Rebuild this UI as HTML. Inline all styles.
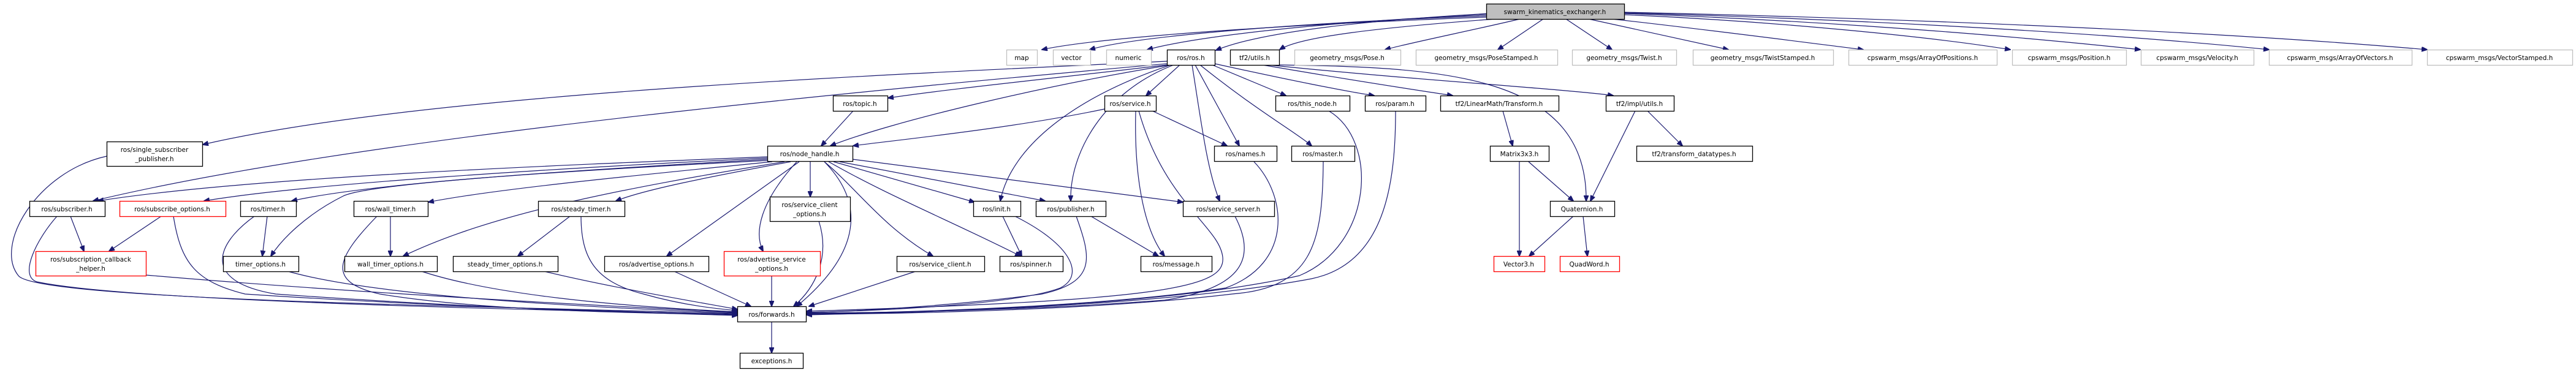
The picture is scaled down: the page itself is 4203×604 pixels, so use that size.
<!DOCTYPE html>
<html><head><meta charset="utf-8"><style>
html,body{margin:0;padding:0;background:#fff;}
svg{display:block;}
text{font-family:"DejaVu Sans","Liberation Sans",sans-serif;font-size:10.5px;fill:#000;text-anchor:middle;}
.e{fill:none;stroke:#191970;stroke-width:1.2;marker-end:url(#a);}
.b{fill:#fff;stroke:#000;stroke-width:1.3;}
.g{fill:#fff;stroke:#bfbfbf;stroke-width:1.3;}
.r{fill:#fff;stroke:#ff0000;stroke-width:1.3;}
</style></head><body>
<svg width="4203" height="604" viewBox="0 0 4203 604" xmlns="http://www.w3.org/2000/svg">
<defs><marker id="a" markerWidth="10" markerHeight="8" refX="9" refY="4" orient="auto" markerUnits="userSpaceOnUse"><path d="M0,0 L10,4 L0,8 z" fill="#191970" stroke="#191970"/></marker></defs>
<path class="e" d="M2425,28 C2100,40 1800,60 1700,81"/>
<path class="e" d="M2425,26 C2100,38 1850,60 1778,81"/>
<path class="e" d="M2425,24 C2150,36 1950,60 1872,81"/>
<path class="e" d="M2430,22 C2200,35 2050,55 1984,82"/>
<path class="e" d="M2440,31 C2250,45 2120,60 2088,81"/>
<path class="e" d="M2480,31 C2400,50 2300,70 2260,81"/>
<path class="e" d="M2518,31 L2444,81"/>
<path class="e" d="M2555,31 L2630,81"/>
<path class="e" d="M2592,31 L2820,81"/>
<path class="e" d="M2630,31 C2800,50 2950,70 3040,81"/>
<path class="e" d="M2650,24 C2900,35 3150,60 3280,81"/>
<path class="e" d="M2650,22 C3000,35 3300,60 3492,81"/>
<path class="e" d="M2650,21 C3050,32 3450,55 3702,81"/>
<path class="e" d="M2650,20 C3100,30 3600,50 3960,81"/>
<path class="e" d="M1904,100 C1500,120 700,150 331,236"/>
<path class="e" d="M1904,104 C1500,140 600,220 152,328"/>
<path class="e" d="M1904,106 C1700,130 1550,145 1449,160"/>
<path class="e" d="M1910,106 C1700,140 1450,200 1355,238"/>
<path class="e" d="M1925,106 L1870,156"/>
<path class="e" d="M1910,106 C1750,160 1650,240 1632,328"/>
<path class="e" d="M1915,106 C1800,150 1745,250 1747,328"/>
<path class="e" d="M1950,106 L2022,238"/>
<path class="e" d="M1945,106 C1960,200 1970,280 1990,328"/>
<path class="e" d="M1958,106 C2050,180 2120,220 2140,238"/>
<path class="e" d="M1978,106 L2098,156"/>
<path class="e" d="M1982,104 C2100,130 2200,150 2242,156"/>
<path class="e" d="M2060,106 C2200,130 2330,150 2370,156"/>
<path class="e" d="M2070,106 C2300,130 2550,145 2632,156"/>
<path class="e" d="M2087,106 C2350,110 2590,120 2588,328"/>
<path class="e" d="M1802,178 C1650,210 1450,230 1392,238"/>
<path class="e" d="M1880,181 L2002,238"/>
<path class="e" d="M1853,181 C1850,300 1870,380 1900,418"/>
<path class="e" d="M1858,181 C1900,330 1990,370 1995,420 C2000,470 1900,490 1316,508"/>
<path class="e" d="M1392,181 L1340,238"/>
<path class="e" d="M1252,256 C900,270 400,290 160,328"/>
<path class="e" d="M1252,258 C900,275 500,300 333,328"/>
<path class="e" d="M1252,260 C900,280 600,300 476,328"/>
<path class="e" d="M1252,262 C900,280 600,300 560,320 C500,350 460,390 442,418"/>
<path class="e" d="M1260,264 C1000,290 800,310 699,330"/>
<path class="e" d="M1280,264 C1000,310 800,350 658,418"/>
<path class="e" d="M1290,264 C1150,290 1050,310 1005,328"/>
<path class="e" d="M1304,264 L1088,418"/>
<path class="e" d="M1300,264 C1240,330 1230,380 1245,410"/>
<path class="e" d="M1322,264 L1322,321"/>
<path class="e" d="M1345,264 C1400,320 1420,400 1300,500"/>
<path class="e" d="M1345,264 C1400,310 1440,370 1522,418"/>
<path class="e" d="M1352,264 C1450,320 1550,360 1665,418"/>
<path class="e" d="M1360,264 L1590,330"/>
<path class="e" d="M1370,264 L1705,328"/>
<path class="e" d="M1391,260 L1930,330"/>
<path class="e" d="M174,255 C60,280 -10,400 30,450 C60,490 800,500 1203,512"/>
<path class="e" d="M93,353 C60,390 30,450 60,460 C200,490 800,505 1203,513"/>
<path class="e" d="M238,449 C600,480 1000,500 1203,510"/>
<path class="e" d="M283,353 C295,430 320,460 400,480 C700,500 1000,508 1203,514"/>
<path class="e" d="M415,353 C350,400 330,460 450,480 C800,505 1100,512 1203,515"/>
<path class="e" d="M470,443 C600,480 900,500 1203,511"/>
<path class="e" d="M615,353 C550,420 530,460 620,480 C800,510 1100,512 1203,513"/>
<path class="e" d="M688,443 C800,480 1000,500 1203,509"/>
<path class="e" d="M948,353 C948,420 970,460 1050,480 C1120,500 1180,505 1203,507"/>
<path class="e" d="M888,443 C1000,470 1150,495 1203,505"/>
<path class="e" d="M1100,443 L1225,500"/>
<path class="e" d="M1259,451 L1259,500"/>
<path class="e" d="M1336,361 C1355,420 1330,470 1295,500"/>
<path class="e" d="M1494,443 L1320,500"/>
<path class="e" d="M1656,353 C1750,400 1770,450 1730,470 C1650,500 1400,508 1316,510"/>
<path class="e" d="M1756,353 C1780,420 1790,460 1700,480 C1550,500 1400,508 1316,510"/>
<path class="e" d="M2015,353 C2050,420 2030,470 1900,490 C1700,505 1500,510 1316,511"/>
<path class="e" d="M2046,264 C2100,320 2110,430 2000,470 C1800,500 1500,510 1316,512"/>
<path class="e" d="M2159,264 C2158,400 2140,470 2010,480 C1800,505 1500,512 1316,513"/>
<path class="e" d="M2168,181 C2250,230 2240,400 2120,450 C1900,500 1500,510 1316,513"/>
<path class="e" d="M2277,181 C2277,300 2260,430 2140,455 C1900,500 1500,510 1316,514"/>
<path class="e" d="M1259,526 L1259,576"/>
<path class="e" d="M1780,353 L1890,418"/>
<path class="e" d="M1636,353 L1667,418"/>
<path class="e" d="M115,353 L137,410"/>
<path class="e" d="M263,353 L178,410"/>
<path class="e" d="M436,353 L428,418"/>
<path class="e" d="M637,353 L637,418"/>
<path class="e" d="M930,353 L845,418"/>
<path class="e" d="M2452,181 L2468,238"/>
<path class="e" d="M2668,181 L2595,328"/>
<path class="e" d="M2688,181 L2745,238"/>
<path class="e" d="M2479,264 L2479,418"/>
<path class="e" d="M2494,264 L2567,328"/>
<path class="e" d="M2567,353 L2495,418"/>
<path class="e" d="M2583,353 L2590,418"/>
<rect x="2425.5" y="6.5" width="225" height="25" fill="#bfbfbf" stroke="#000" stroke-width="1.3"/><text x="2537" y="23">swarm_kinematics_exchanger.h</text>
<rect class="g" x="1642.5" y="81.5" width="50" height="25"/><text x="1667" y="98">map</text>
<rect class="g" x="1718.5" y="81.5" width="61" height="25"/><text x="1748" y="98">vector</text>
<rect class="g" x="1805.5" y="81.5" width="73" height="25"/><text x="1841" y="98">numeric</text>
<rect class="b" x="1904.5" y="81.5" width="78" height="25"/><text x="1943" y="98">ros/ros.h</text>
<rect class="b" x="2007.5" y="81.5" width="80" height="25"/><text x="2047" y="98">tf2/utils.h</text>
<rect class="g" x="2112.5" y="81.5" width="173" height="25"/><text x="2198" y="98">geometry_msgs/Pose.h</text>
<rect class="g" x="2310.5" y="81.5" width="231" height="25"/><text x="2425" y="98">geometry_msgs/PoseStamped.h</text>
<rect class="g" x="2565.5" y="81.5" width="170" height="25"/><text x="2650" y="98">geometry_msgs/Twist.h</text>
<rect class="g" x="2762.5" y="81.5" width="229" height="25"/><text x="2876" y="98">geometry_msgs/TwistStamped.h</text>
<rect class="g" x="3016.5" y="81.5" width="242" height="25"/><text x="3137" y="98">cpswarm_msgs/ArrayOfPositions.h</text>
<rect class="g" x="3283.5" y="81.5" width="186" height="25"/><text x="3376" y="98">cpswarm_msgs/Position.h</text>
<rect class="g" x="3493.5" y="81.5" width="184" height="25"/><text x="3585" y="98">cpswarm_msgs/Velocity.h</text>
<rect class="g" x="3702.5" y="81.5" width="233" height="25"/><text x="3818" y="98">cpswarm_msgs/ArrayOfVectors.h</text>
<rect class="g" x="3960.5" y="81.5" width="237" height="25"/><text x="4078" y="98">cpswarm_msgs/VectorStamped.h</text>
<rect class="b" x="1359.5" y="156.5" width="89" height="25"/><text x="1403" y="173">ros/topic.h</text>
<rect class="b" x="1802.5" y="156.5" width="84" height="25"/><text x="1844" y="173">ros/service.h</text>
<rect class="b" x="2081.5" y="156.5" width="121" height="25"/><text x="2141" y="173">ros/this_node.h</text>
<rect class="b" x="2227.5" y="156.5" width="99" height="25"/><text x="2276" y="173">ros/param.h</text>
<rect class="b" x="2350.5" y="156.5" width="193" height="25"/><text x="2446" y="173">tf2/LinearMath/Transform.h</text>
<rect class="b" x="2620.5" y="156.5" width="111" height="25"/><text x="2675" y="173">tf2/impl/utils.h</text>
<rect class="b" x="174.5" y="231.5" width="156" height="40"/><text x="252" y="248">ros/single_subscriber</text><text x="252" y="263">_publisher.h</text>
<rect class="b" x="1252.5" y="238.5" width="139" height="25"/><text x="1321" y="255">ros/node_handle.h</text>
<rect class="b" x="1981.5" y="238.5" width="102" height="25"/><text x="2032" y="255">ros/names.h</text>
<rect class="b" x="2107.5" y="238.5" width="103" height="25"/><text x="2158" y="255">ros/master.h</text>
<rect class="b" x="2431.5" y="238.5" width="96" height="25"/><text x="2479" y="255">Matrix3x3.h</text>
<rect class="b" x="2670.5" y="238.5" width="189" height="25"/><text x="2764" y="255">tf2/transform_datatypes.h</text>
<rect class="b" x="48.5" y="328.5" width="123" height="25"/><text x="109" y="345">ros/subscriber.h</text>
<rect class="r" x="195.5" y="328.5" width="173" height="25"/><text x="281" y="345">ros/subscribe_options.h</text>
<rect class="b" x="392.5" y="328.5" width="91" height="25"/><text x="437" y="345">ros/timer.h</text>
<rect class="b" x="577.5" y="328.5" width="121" height="25"/><text x="637" y="345">ros/wall_timer.h</text>
<rect class="b" x="878.5" y="328.5" width="141" height="25"/><text x="948" y="345">ros/steady_timer.h</text>
<rect class="b" x="1256.5" y="321.5" width="131" height="40"/><text x="1321" y="338">ros/service_client</text><text x="1321" y="353">_options.h</text>
<rect class="b" x="1588.5" y="328.5" width="77" height="25"/><text x="1626" y="345">ros/init.h</text>
<rect class="b" x="1690.5" y="328.5" width="114" height="25"/><text x="1747" y="345">ros/publisher.h</text>
<rect class="b" x="1930.5" y="328.5" width="149" height="25"/><text x="2004" y="345">ros/service_server.h</text>
<rect class="b" x="2529.5" y="328.5" width="105" height="25"/><text x="2581" y="345">Quaternion.h</text>
<rect class="r" x="58.5" y="410.5" width="180" height="40"/><text x="148" y="427">ros/subscription_callback</text><text x="148" y="442">_helper.h</text>
<rect class="b" x="364.5" y="418.5" width="123" height="25"/><text x="425" y="435">timer_options.h</text>
<rect class="b" x="562.5" y="418.5" width="151" height="25"/><text x="637" y="435">wall_timer_options.h</text>
<rect class="b" x="739.5" y="418.5" width="171" height="25"/><text x="824" y="435">steady_timer_options.h</text>
<rect class="b" x="986.5" y="418.5" width="170" height="25"/><text x="1071" y="435">ros/advertise_options.h</text>
<rect class="r" x="1181.5" y="410.5" width="157" height="40"/><text x="1259" y="427">ros/advertise_service</text><text x="1259" y="442">_options.h</text>
<rect class="b" x="1463.5" y="418.5" width="143" height="25"/><text x="1534" y="435">ros/service_client.h</text>
<rect class="b" x="1631.5" y="418.5" width="103" height="25"/><text x="1682" y="435">ros/spinner.h</text>
<rect class="b" x="1861.5" y="418.5" width="116" height="25"/><text x="1919" y="435">ros/message.h</text>
<rect class="r" x="2437.5" y="418.5" width="83" height="25"/><text x="2478" y="435">Vector3.h</text>
<rect class="r" x="2545.5" y="418.5" width="97" height="25"/><text x="2593" y="435">QuadWord.h</text>
<rect class="b" x="1203.5" y="500.5" width="112" height="25"/><text x="1259" y="517">ros/forwards.h</text>
<rect class="b" x="1207.5" y="576.5" width="103" height="25"/><text x="1259" y="593">exceptions.h</text>
</svg>
</body></html>
